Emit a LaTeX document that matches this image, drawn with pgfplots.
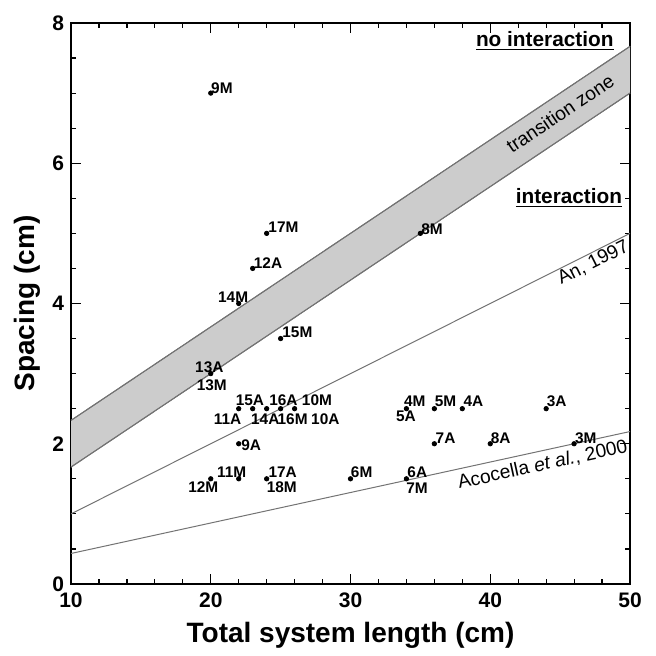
\documentclass[border=0pt]{standalone}
\usepackage{fontspec}
\setmainfont{Liberation Sans}
\usepackage{pgfplots}
\pgfplotsset{compat=1.18}
\usepgfplotslibrary{fillbetween}

\tikzset{
    lbl/.style={font=\fontsize{7.7}{9}\selectfont\bfseries, inner sep=0pt},
    note/.style={font=\fontsize{9.6}{11}\selectfont, inner sep=0pt},
}

\begin{document}
\begin{tikzpicture}
\begin{axis}[
    scale only axis,
    width=279.5pt, height=280.5pt,
    xmin=10, xmax=50, ymin=0, ymax=8,
    xtick={10,20,...,50}, ytick={0,2,...,8},
    minor x tick num=4, minor y tick num=3,
    tick align=inside,
    major tick length=5pt, minor tick length=2.5pt,
    axis line style={line width=0.8pt},
    every tick/.style={black, line width=0.6pt},
    /pgf/number format/assume math mode=true,
    ticklabel style={font=\fontsize{10.5}{12}\selectfont\bfseries},
    xticklabel style={yshift=-1pt},
    xlabel={Total system length (cm)},
    ylabel={Spacing (cm)},
    label style={font=\fontsize{14}{16}\selectfont\bfseries},
    xlabel style={yshift=-0.5pt},
    ylabel style={yshift=-1pt},
    clip=false,
]

% transition zone
\addplot[name path=up, black!55, line width=0.5pt] coordinates {(10,2.333) (50,7.667)};
\addplot[name path=lo, black!55, line width=0.5pt] coordinates {(10,1.667) (50,7.0)};
\addplot[black!20] fill between[of=up and lo];
\addplot[black!55, line width=0.5pt] coordinates {(10,2.333) (50,7.667)};
\addplot[black!55, line width=0.5pt] coordinates {(10,1.667) (50,7.0)};

% An, 1997
\addplot[black!55, line width=0.5pt] coordinates {(10,1.0) (50,5.0)};
% Acocella et al., 2000
\addplot[black!55, line width=0.5pt] coordinates {(10,0.435) (50,2.174)};

% experiments
\addplot[only marks, mark=*, mark size=1.1pt, black] coordinates {
    (20,7.0) (24,5.0) (23,4.5) (22,4.0) (25,3.5) (20,3.0) (35,5.0)
    (22,2.5) (23,2.5) (24,2.5) (25,2.5) (26,2.5)
    (22,2.0) (20,1.5) (22,1.5) (24,1.5) (30,1.5) (34,1.5)
    (34,2.5) (36,2.5) (38,2.5) (44,2.5)
    (36,2.0) (40,2.0) (46,2.0)
};

\node[lbl] at (axis cs:20.8,7.07) {9M};
\node[lbl] at (axis cs:25.2,5.09) {17M};
\node[lbl] at (axis cs:24.1,4.58) {12A};
\node[lbl] at (axis cs:21.6,4.09) {14M};
\node[lbl] at (axis cs:26.2,3.59) {15M};
\node[lbl] at (axis cs:19.9,3.09) {13A};
\node[lbl] at (axis cs:20.07,2.84) {13M};
\node[lbl] at (axis cs:35.83,5.06) {8M};
\node[lbl] at (axis cs:22.8,2.62) {15A};
\node[lbl] at (axis cs:25.2,2.62) {16A};
\node[lbl] at (axis cs:27.6,2.62) {10M};
\node[lbl] at (axis cs:21.2,2.35) {11A};
\node[lbl] at (axis cs:23.9,2.35) {14A};
\node[lbl] at (axis cs:25.86,2.35) {16M};
\node[lbl] at (axis cs:28.2,2.35) {10A};
\node[lbl] at (axis cs:22.9,1.98) {9A};
\node[lbl] at (axis cs:21.5,1.6) {11M};
\node[lbl] at (axis cs:19.47,1.38) {12M};
\node[lbl] at (axis cs:25.15,1.6) {17A};
\node[lbl] at (axis cs:25.08,1.38) {18M};
\node[lbl] at (axis cs:30.8,1.6) {6M};
\node[lbl] at (axis cs:34.78,1.59) {6A};
\node[lbl] at (axis cs:34.76,1.36) {7M};
\node[lbl] at (axis cs:34.6,2.6) {4M};
\node[lbl] at (axis cs:33.97,2.39) {5A};
\node[lbl] at (axis cs:36.8,2.6) {5M};
\node[lbl] at (axis cs:38.8,2.6) {4A};
\node[lbl] at (axis cs:44.75,2.6) {3A};
\node[lbl] at (axis cs:36.8,2.08) {7A};
\node[lbl] at (axis cs:40.75,2.08) {8A};
\node[lbl] at (axis cs:46.83,2.08) {3M};

\node[font=\fontsize{10.4}{12}\selectfont\bfseries, inner sep=0pt, anchor=base]
    at (axis cs:43.9,7.66) {\underline{no interaction}};
\node[font=\fontsize{10.4}{12}\selectfont\bfseries, inner sep=0pt, anchor=base]
    at (axis cs:45.63,5.43) {\underline{interaction}};

\node[note, rotate=33.8] at (axis cs:45.0,6.71) {transition zone};
\node[note, rotate=26.6] at (axis cs:47.37,4.58) {An, 1997};
\node[note, rotate=12.3] at (axis cs:43.75,1.70) {Acocella \textit{et al.}, 2000};

\end{axis}
% margins of the reference picture
\path ([shift={(-35.5pt,-33.5pt)}]current axis.south west)
    rectangle ([shift={(13pt,11.5pt)}]current axis.north east);
\end{tikzpicture}
\end{document}
